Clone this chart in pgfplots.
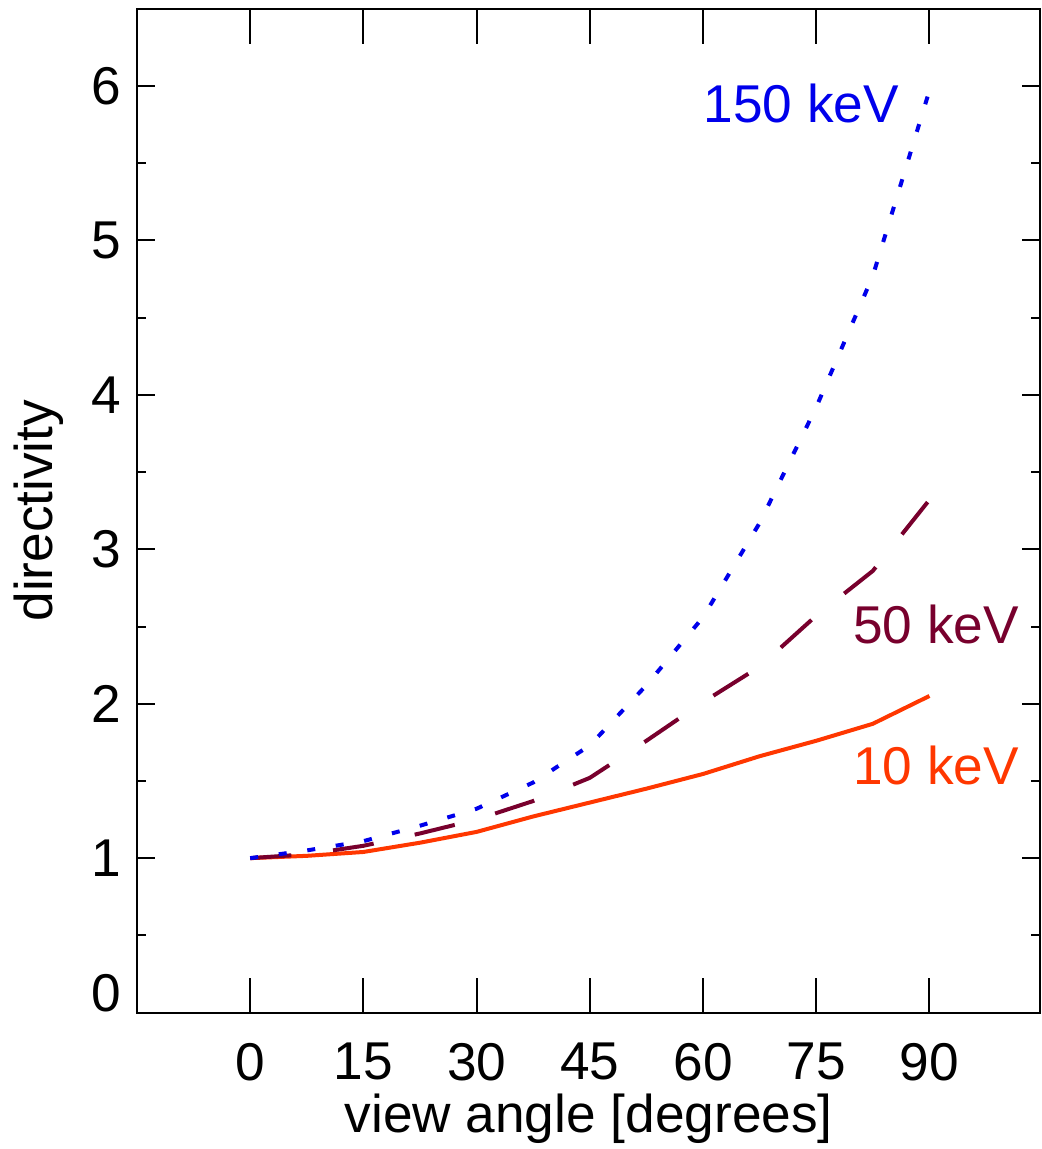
\documentclass[border=0pt]{standalone}
\usepackage{pgfplots}
\pgfplotsset{compat=1.18}
\usepackage{fontspec}
\setmainfont{Liberation Sans}
\definecolor{cblue}{RGB}{0,0,235}
\definecolor{cmaroon}{RGB}{120,0,45}
\definecolor{corange}{RGB}{255,55,0}
\pgfplotsset{common/.style={
  scale only axis,
  width=225.78pt, height=250.9pt,
  xmin=-15, xmax=104.7, ymin=0, ymax=6.5,
  tick align=inside,
  xtick pos=both, ytick pos=both,
  tick style={line width=0.5pt, black},
  axis line style={line width=0.5pt},
  /pgf/number format/assume math mode=true,
  ticklabel style={font=\fontsize{13.3}{16}\selectfont},
}}
\begin{document}
\begin{tikzpicture}
\begin{axis}[
  common,
  name=ax,
  xtick={0,15,30,45,60,75,90},
  ytick={1,2,3,4,5,6},
  minor ytick={0.5,1.5,2.5,3.5,4.5,5.5},
  extra y ticks={0},
  extra y tick style={yticklabel style={anchor=south east}},
  major tick length=4.5pt, minor tick length=2.25pt,
  xticklabel style={anchor=north, inner sep=0pt, yshift=-7.5pt},
  yticklabel style={anchor=east, inner sep=0pt, xshift=-3.75pt},
  xlabel={view angle [degrees]},
  ylabel={directivity},
  xlabel style={font=\fontsize{13.3}{16}\selectfont, at={(axis description cs:0.5,-0.1196)}, anchor=base, inner sep=0pt},
  ylabel style={font=\fontsize{13.3}{16}\selectfont, at={(axis description cs:-0.0941,0.5)}, anchor=base, inner sep=0pt},
  clip=false,
]
\addplot[corange, line width=1pt] coordinates {
(0,1.0) (7.5,1.015) (15,1.04) (22.5,1.10) (30,1.17) (37.5,1.27) (45,1.36) (52.5,1.45) (60,1.545) (67.5,1.66) (75,1.76) (82.5,1.87) (90,2.05)};
\addplot[cmaroon, line width=1pt, dash pattern=on 10.3pt off 10.5pt] coordinates {
(0,1.0) (7.5,1.025) (15,1.08) (22.5,1.16) (30,1.25) (37.5,1.37) (45,1.52) (52.5,1.76) (60,2.01) (67.5,2.24) (75,2.57) (82.5,2.86) (90,3.32)};
\addplot[cblue, line width=1pt, dash pattern=on 2pt off 5.2pt] coordinates {
(0,1.0) (7.5,1.05) (15,1.11) (22.5,1.21) (30,1.32) (37.5,1.49) (45,1.73) (52.5,2.12) (60,2.56) (67.5,3.17) (75,3.92) (82.5,4.77) (90,5.97)};
\node[anchor=east, text=cblue, inner sep=0pt, font=\fontsize{13.3}{16}\selectfont] at (axis cs:86.06,5.89) {150 keV};
\node[anchor=east, text=cmaroon, inner sep=0pt, font=\fontsize{13.3}{16}\selectfont] at (axis cs:101.96,2.51) {50 keV};
\node[anchor=east, text=corange, inner sep=0pt, font=\fontsize{13.3}{16}\selectfont] at (axis cs:101.96,1.60) {10 keV};
\end{axis}
\begin{axis}[
  common,
  xtick={0,15,30,45,60,75,90},
  xticklabels={},
  ytick=\empty,
  major tick length=8.75pt,
]
\end{axis}
\pgfresetboundingbox
\path[use as bounding box] ([shift={(-34.25pt,-34.1pt)}]ax.south west) rectangle ([shift={(0.25pt,2.2pt)}]ax.north east);
\end{tikzpicture}
\end{document}
